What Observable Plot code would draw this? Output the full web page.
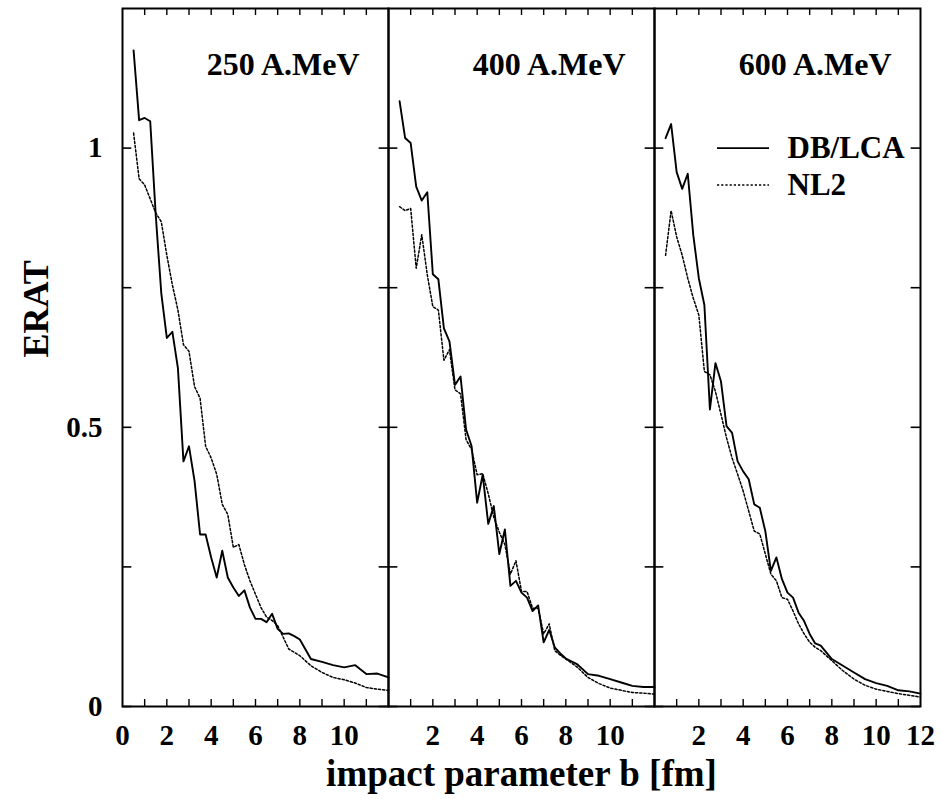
<!DOCTYPE html>
<html><head><meta charset="utf-8">
<script src="https://cdn.jsdelivr.net/npm/d3@7"></script>
<script src="https://cdn.jsdelivr.net/npm/@observablehq/plot@0.6"></script>
<style>body{margin:0;background:#fff} #chart{width:943px;height:799px}</style>
</head><body><div id="chart"></div>
<script>
const panels = ["250 A.MeV", "400 A.MeV", "600 A.MeV"];
const models = ["DB/LCA", "NL2"];
const bGrid = [0.5,0.75,1,1.25,1.5,1.75,2,2.25,2.5,2.75,3,3.25,3.5,3.75,4,4.25,4.5,4.75,5,5.25,5.5,5.75,6,6.25,6.5,6.75,7,7.25,7.5,7.75,8,8.5,9,9.5,10,10.5,11,11.5,12];

const erat250DB  = [1.175,1.05,1.054,1.048,0.88,0.74,0.66,0.671,0.606,0.439,0.466,0.404,0.308,0.308,0.267,0.231,0.279,0.231,0.213,0.198,0.208,0.177,0.157,0.157,0.151,0.166,0.139,0.130,0.131,0.126,0.120,0.085,0.080,0.074,0.070,0.074,0.058,0.059,0.052];
const erat250NL2 = [1.027,0.945,0.934,0.909,0.884,0.868,0.808,0.755,0.71,0.648,0.636,0.573,0.552,0.466,0.445,0.416,0.362,0.344,0.285,0.290,0.254,0.225,0.201,0.177,0.160,0.154,0.145,0.124,0.103,0.097,0.091,0.073,0.061,0.052,0.048,0.042,0.034,0.031,0.029];
const erat400DB  = [1.084,1.018,1.009,0.931,0.906,0.921,0.774,0.765,0.677,0.654,0.576,0.591,0.496,0.466,0.365,0.415,0.327,0.359,0.273,0.317,0.216,0.225,0.204,0.195,0.171,0.181,0.115,0.137,0.106,0.095,0.086,0.076,0.058,0.055,0.049,0.043,0.037,0.035,0.035];
const erat400NL2 = [0.895,0.888,0.892,0.785,0.845,0.773,0.716,0.71,0.62,0.639,0.567,0.56,0.478,0.46,0.415,0.417,0.381,0.339,0.312,0.29,0.237,0.261,0.206,0.206,0.176,0.176,0.130,0.148,0.100,0.092,0.085,0.071,0.052,0.041,0.033,0.029,0.025,0.024,0.022];
const erat600DB  = [1.018,1.043,0.957,0.927,0.954,0.844,0.767,0.719,0.532,0.615,0.582,0.502,0.490,0.439,0.421,0.407,0.362,0.356,0.314,0.243,0.267,0.228,0.204,0.195,0.168,0.153,0.130,0.113,0.109,0.097,0.085,0.073,0.061,0.049,0.042,0.037,0.029,0.027,0.023];
const erat600NL2 = [0.808,0.888,0.841,0.808,0.767,0.731,0.701,0.60,0.594,0.564,0.523,0.481,0.445,0.416,0.386,0.35,0.314,0.309,0.273,0.237,0.225,0.195,0.192,0.171,0.148,0.130,0.115,0.106,0.100,0.091,0.082,0.064,0.049,0.038,0.031,0.027,0.023,0.020,0.017];

const yTickValues = [0, 0.25, 0.5, 0.75, 1];
const yTickLabels = ["0", "", "0.5", "", "1"];
const xTickValues = [1,2,3,4,5,6,7,8,9,10,11];
const xTickLabels = [[0,2,4,6,8,10],[2,4,6,8,10],[2,4,6,8,10,12]];
const legendKeyY = [1.0, 0.934];

const seriesByPanel = [[erat250DB, erat250NL2],[erat400DB, erat400NL2],[erat600DB, erat600NL2]];
const rows = [];
panels.forEach((p, i) => models.forEach((m, j) => seriesByPanel[i][j].forEach((v, k) => rows.push({panel: p, model: m, b: bGrid[k], v}))));
const xLabelRows = panels.flatMap((p, i) => xTickLabels[i].map(b => ({panel: p, b})));
const yLabelRows = yTickValues.map((v, i) => ({panel: panels[0], v, label: yTickLabels[i]})).filter(d => d.label);
const legendRows = models.map((m, i) => ({panel: panels[2], model: m, y: legendKeyY[i]}));

const W = 943, H = 799, mL = 121, mR = 22, mT = 8, mB = 93;
const bw = (W - mL - mR) / 3, fh = H - mT - mB;
const font = {fontFamily: "Liberation Serif, Times New Roman, serif", fontWeight: "bold"};

const chart = Plot.plot({
  width: W, height: H,
  marginLeft: mL, marginRight: mR, marginTop: mT, marginBottom: mB,
  x: {domain: [0, 12], axis: null},
  y: {domain: [0, 1.25], axis: null},
  fx: {domain: panels, axis: null, padding: 0},
  style: {background: "white", color: "black"},
  marks: [
    Plot.ruleY(yTickValues, {insetRight: bw - 10, strokeWidth: 1.6}),
    Plot.ruleY(yTickValues, {insetLeft: bw - 10, strokeWidth: 1.6}),
    Plot.ruleX(xTickValues, {insetTop: fh - 7, strokeWidth: 1.4}),
    Plot.ruleX(xTickValues, {insetBottom: fh - 7, strokeWidth: 1.4}),
    Plot.line(rows.filter(d => d.model === "DB/LCA"), {x: "b", y: "v", fx: "panel", stroke: "black", strokeWidth: 1.9}),
    Plot.line(rows.filter(d => d.model === "NL2"), {x: "b", y: "v", fx: "panel", stroke: "black", strokeWidth: 1.5, strokeDasharray: "2.2,2"}),
    Plot.frame({stroke: "black", strokeWidth: 2}),
    Plot.text(panels, {fx: d => d, text: d => d, frameAnchor: "top-right", textAnchor: "end", lineAnchor: "middle", dx: -29, dy: 56, fontSize: 32, ...font}),
    Plot.ruleY(legendRows.slice(0,1), {y: "y", fx: "panel", insetLeft: 63, insetRight: 151, stroke: "black", strokeWidth: 1.9}),
    Plot.ruleY(legendRows.slice(1), {y: "y", fx: "panel", insetLeft: 63, insetRight: 151, stroke: "black", strokeWidth: 1.5, strokeDasharray: "2.2,2"}),
    Plot.text(legendRows, {y: "y", fx: "panel", text: "model", frameAnchor: "right", textAnchor: "start", lineAnchor: "middle", dx: -133, fontSize: 31, ...font}),
    Plot.text(xLabelRows, {x: "b", fx: "panel", text: d => String(d.b), frameAnchor: "bottom", lineAnchor: "middle", dy: 29, fontSize: 29, ...font}),
    Plot.text(yLabelRows, {y: "v", fx: "panel", text: "label", frameAnchor: "left", textAnchor: "end", lineAnchor: "middle", dx: -20, fontSize: 29, ...font}),
    Plot.text(["ERAT"], {fx: () => panels[0], text: d => d, frameAnchor: "left", lineAnchor: "middle", dx: -86, rotate: -90, fontSize: 36, ...font}),
    Plot.text(["impact parameter b [fm]"], {fx: () => panels[1], text: d => d, frameAnchor: "bottom", lineAnchor: "middle", dy: 68, fontSize: 37, ...font})
  ]
});
document.getElementById("chart").append(chart);
</script>
</body></html>
